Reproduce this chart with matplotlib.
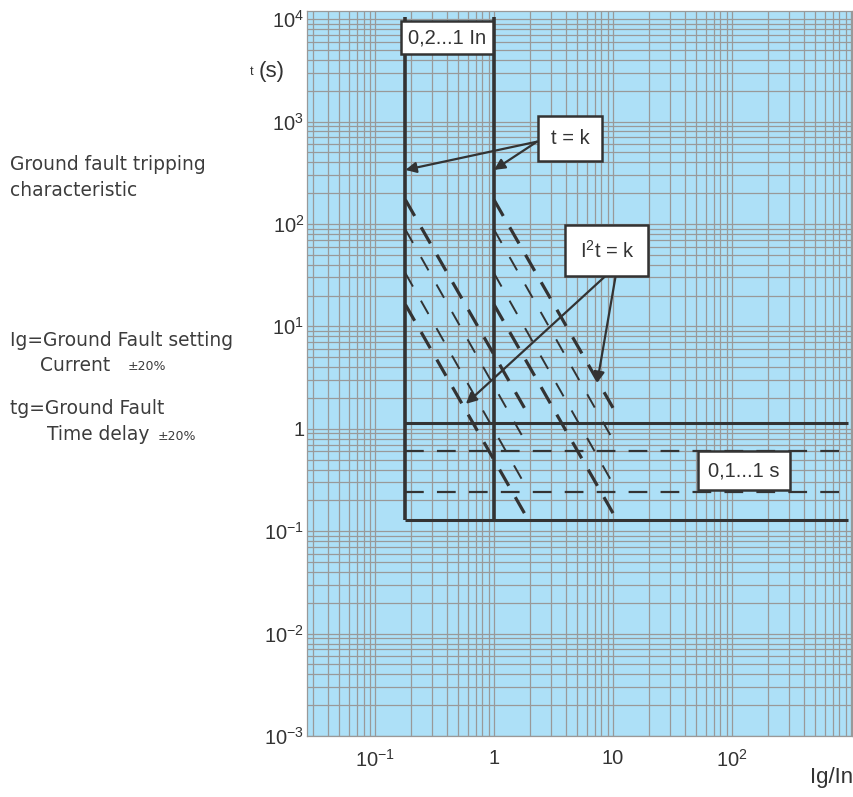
import matplotlib
matplotlib.use('Agg')
import matplotlib.pyplot as plt
from matplotlib.ticker import LogLocator, NullFormatter, FixedLocator, FixedFormatter

plt.rcParams['lines.scale_dashes'] = False

# --- data ---
ig_settings = [0.18, 1.0]          # Ig/In of the two vertical (t = k) lines
i2t_end_x = [1.8, 10.0]             # where the I2t lines stop, per setting
t_top = 1.05e4                      # top end of the vertical lines
t_bottom = 0.13                     # lowest horizontal line
t_solid = 1.15                      # upper solid horizontal line
tg_dashed = [0.6, 0.24]             # dashed definite-time lines
x_right = 940                       # right end of horizontal lines

i2t_start_t = [172, 88, 33, 16.3]   # t at start of each I2t = k line
i2t_end_t = [1.6, 0.78, 0.29, 0.15]  # t at end of each I2t = k line
i2t_thick = [True, False, False, True]

x_ticks = [0.1, 1, 10, 100]
x_labels = [r'$\mathregular{10^{-1}}$', '1', '10', r'$\mathregular{10^{2}}$']
y_ticks = [1e-3, 1e-2, 1e-1, 1, 1e1, 1e2, 1e3, 1e4]
y_labels = [r'$\mathregular{10^{-3}}$', r'$\mathregular{10^{-2}}$', r'$\mathregular{10^{-1}}$', '1',
            r'$\mathregular{10^{1}}$', r'$\mathregular{10^{2}}$', r'$\mathregular{10^{3}}$',
            r'$\mathregular{10^{4}}$']

dark = '#333333'
bg = '#ade0f7'
grid_c = '#999999'
plt.rcParams['font.family'] = ['Liberation Sans', 'DejaVu Sans']

fig = plt.figure(figsize=(8.54, 7.97), dpi=100)
ax = fig.add_axes([307 / 854, 61 / 797, 545 / 854, 725 / 797])
ax.set_facecolor(bg)
ax.set_xscale('log')
ax.set_yscale('log')
ax.set_xlim(0.0268, 1020)
ax.set_ylim(1e-3, 1.2e4)

ax.xaxis.set_major_locator(FixedLocator(x_ticks))
ax.xaxis.set_major_formatter(FixedFormatter(x_labels))
ax.yaxis.set_major_locator(FixedLocator(y_ticks))
ax.yaxis.set_major_formatter(FixedFormatter(y_labels))
for a in (ax.xaxis, ax.yaxis):
    a.set_minor_locator(LogLocator(base=10, subs=range(1, 10), numticks=30))
    a.set_minor_formatter(NullFormatter())
ax.grid(True, which='both', color=grid_c, lw=0.9)
ax.set_axisbelow(True)
ax.tick_params(which='both', length=0, labelsize=14.5, colors=dark)
ax.tick_params(axis='x', pad=9)
ax.tick_params(axis='y', pad=2)
for s in ax.spines.values():
    s.set_color(grid_c)
    s.set_linewidth(0.9)

# vertical t = k lines
for x0 in ig_settings:
    ax.plot([x0, x0], [t_bottom, t_top], color=dark, lw=2.6, solid_capstyle='butt')

# horizontal lines
x_left = ig_settings[0]
ax.plot([x_left, x_right], [t_solid, t_solid], color=dark, lw=2.2, solid_capstyle='butt')
ax.plot([x_left, x_right], [t_bottom, t_bottom], color=dark, lw=2.2, solid_capstyle='butt')
for tg in tg_dashed:
    ax.plot([x_left, x_right], [tg, tg], color=dark, lw=1.6, dashes=(13.5, 9.5))

# I2t = k lines
for x0, x1 in zip(ig_settings, i2t_end_x):
    for ts, te, thick in zip(i2t_start_t, i2t_end_t, i2t_thick):
        if thick:
            ax.plot([x0, x1], [ts, te], color=dark, lw=2.3, dashes=(13.4, 9.4))
        else:
            ax.plot([x0, x1], [ts, te], color=dark, lw=1.4, dashes=(11, 11.7))

# boxed labels
def box_text(x, y, s, pad):
    ax.text(x, y, s, ha='center', va='center', fontsize=14.5, color=dark, zorder=10,
            bbox=dict(boxstyle=f'square,pad={pad}', fc='white', ec=dark, lw=1.8))

box_text(0.40, 6600, '0,2...1 In', 0.35)
box_text(4.35, 680, 't = k', 0.65)
box_text(8.9, 55, r'I$\mathregular{^2}$t = k', 0.7)
box_text(126, 0.39, '0,1...1 s', 0.5)

arrow = dict(arrowstyle='-|>', color=dark, lw=1.6, mutation_scale=16, shrinkA=0, shrinkB=0)
for head in [(0.18, 337), (1.0, 337)]:
    ax.annotate('', xy=head, xytext=(2.3, 636), arrowprops=arrow)
ax.annotate('', xy=(0.58, 1.75), xytext=(9.06, 32.6), arrowprops=arrow)
ax.annotate('', xy=(7.35, 2.8), xytext=(10.6, 32.6), arrowprops=arrow)

# axis titles
fig.text(252 / 854, 1 - 72 / 797, 't', fontsize=9, color=dark, ha='center', va='center')
fig.text(272 / 854, 1 - 72 / 797, '(s)', fontsize=16, color=dark, ha='center', va='center')
fig.text(853 / 854, 1 - 778 / 797, 'Ig/In', fontsize=16, color=dark, ha='right', va='center')

# side notes
side = ['DejaVu Sans']
gray = '#3c3c3c'
fs = 13.4
fig.text(10 / 854, 1 - 165 / 797, 'Ground fault tripping', fontsize=fs, color=gray, va='center', family=side)
fig.text(10 / 854, 1 - 191 / 797, 'characteristic', fontsize=fs, color=gray, va='center', family=side)
fig.text(10 / 854, 1 - 340 / 797, 'Ig=Ground Fault setting', fontsize=fs, color=gray, va='center', family=side)
fig.text(40 / 854, 1 - 365 / 797, 'Current', fontsize=fs, color=gray, va='center', family=side)
fig.text(128 / 854, 1 - 367 / 797, '±20%', fontsize=9, color=gray, va='center', family=side)
fig.text(10 / 854, 1 - 408 / 797, 'tg=Ground Fault', fontsize=fs, color=gray, va='center', family=side)
fig.text(47 / 854, 1 - 435 / 797, 'Time delay', fontsize=fs, color=gray, va='center', family=side)
fig.text(158 / 854, 1 - 437 / 797, '±20%', fontsize=9, color=gray, va='center', family=side)

fig.savefig('out.png', dpi=100)
